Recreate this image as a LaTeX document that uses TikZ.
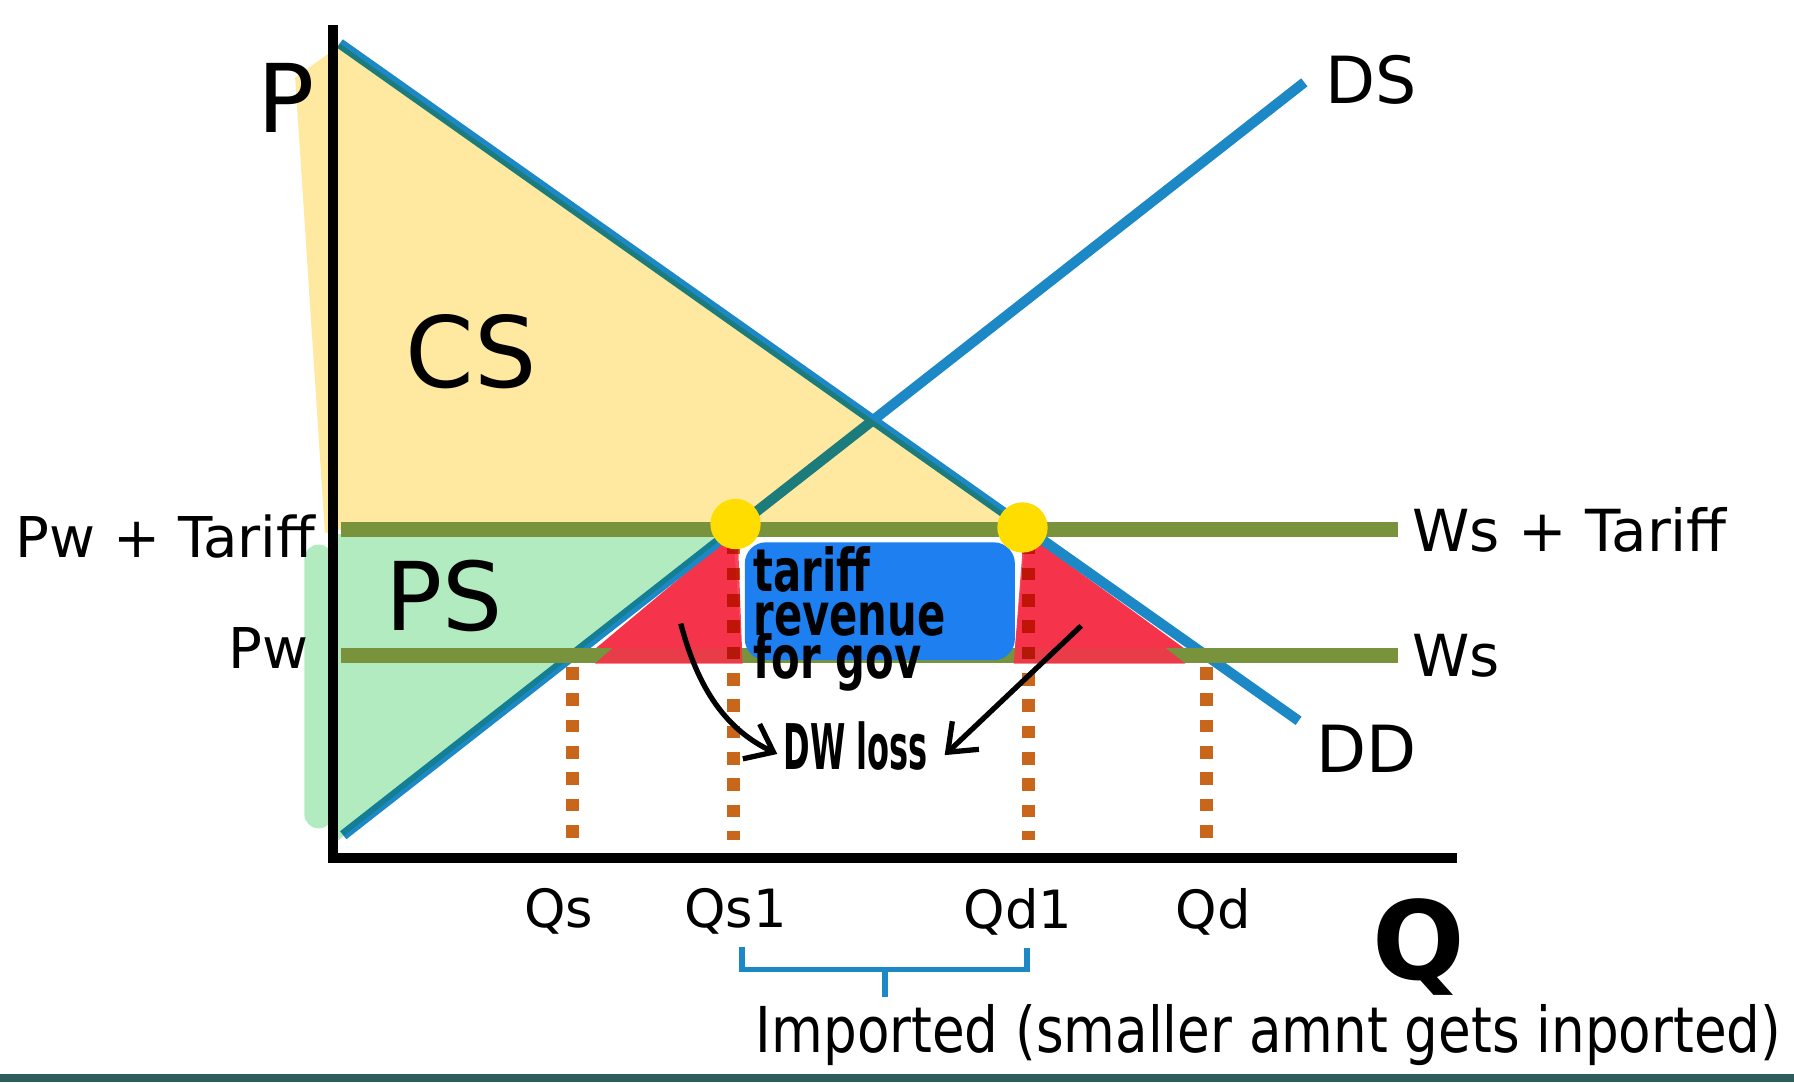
\documentclass[tikz,border=0pt]{standalone}
\usepackage{fontspec}
\setmainfont{DejaVu Sans}
\usepackage{graphicx}
\usetikzlibrary{arrows.meta,calc,intersections}

\definecolor{csyellow}{HTML}{FFE8A0}
\definecolor{psgreen}{HTML}{B2EBBF}
\definecolor{curveblue}{HTML}{1C89C6}
\definecolor{priceolive}{HTML}{79933D}
\definecolor{dwred}{HTML}{F5344B}
\definecolor{revblue}{HTML}{1D7FF0}
\definecolor{qorange}{HTML}{C8661C}
\definecolor{dotyellow}{HTML}{FFDD00}
\definecolor{barteal}{HTML}{2E5E5C}

\begin{document}
\begin{tikzpicture}[x=0.011441cm,y=-0.011441cm]
	\tikzstyle{econcurve}=[draw=curveblue,line width=2.9pt]
	\tikzstyle{priceline}=[draw=priceolive,line width=4.2pt]
	\tikzstyle{qline}=[draw=qorange,line width=3.6pt,dash pattern=on 3.6pt off 3.9pt,blend mode=multiply]
	\tikzstyle{sidelabel}=[font=\fontsize{16}{16}\selectfont,inner sep=0pt]
	\tikzstyle{qlabel}=[font=\fontsize{15}{15}\selectfont,inner sep=0pt]
	\tikzstyle{bracketline}=[draw=curveblue,line width=1.7pt]
	\tikzstyle{handarrow}=[draw=black,line width=1.5pt,-{Straight Barb[length=7pt,width=11pt,line width=1.5pt]}]

	\useasboundingbox (0,0) rectangle (1568,946);
	\fill[barteal] (0,939) rectangle (1568,946);

	% axes, curves and price lines
	\coordinate (O) at (291,750);
	\coordinate (ytop) at (291,22);
	\coordinate (xend) at (1273,750);
	\coordinate (dd0) at (297,38);
	\coordinate (dd1) at (1135,630);
	\coordinate (ds0) at (300,730);
	\coordinate (ds1) at (1140,72);
	\coordinate (pt0) at (298,463);
	\coordinate (pt1) at (1222,463);
	\coordinate (pw0) at (298,573);
	\coordinate (pw1) at (1222,573);

	\coordinate (qs) at (intersection of ds0--ds1 and pw0--pw1);
	\coordinate (qsone) at (intersection of ds0--ds1 and pt0--pt1);
	\coordinate (qdone) at (intersection of dd0--dd1 and pt0--pt1);
	\coordinate (qd) at (intersection of dd0--dd1 and pw0--pw1);

	% surplus areas
	\fill[dwred] (506,579) -- ($(qsone)+(0,3)$) -- (649,579) -- cycle;
	\fill[dwred] (886,579) -- ($(qdone)+(-2,3)$) -- (1052,579) -- cycle;

	\draw[econcurve] (dd0) -- (dd1);
	\draw[econcurve] (ds0) -- (ds1);

	\fill[csyellow,blend mode=multiply] (291,34) -- (qdone) -- (291,463) -- cycle;
	\fill[csyellow,blend mode=multiply] (258,68) -- (291,44) -- (291,466) -- (284,466) -- cycle;
	\fill[psgreen,blend mode=multiply] (291,467) -- (qsone) -- (291,738) -- cycle;
	\fill[psgreen,rounded corners=4pt] (266,476) rectangle (291,724);

	\draw[priceline] (pt0) -- (pt1);
	\draw[priceline] (pw0) -- (pw1);

	% deadweight loss and tariff revenue
	\fill[dwred,opacity=0.9] (520,580) -- ($(qsone)+(4,6)$) -- (649,580) -- cycle;
	\fill[dwred,opacity=0.9] (886,580) -- ($(qdone)+(-4,6)$) -- (1036,580) -- cycle;
	\fill[revblue,rounded corners=6pt] (651,474) rectangle (887,577);

	\foreach \q in {qs,qd}{
	\draw[qline] ($(\q |- pw0)+(0,10)$) -- ($(\q |- O)+(0,-12)$);}
	\foreach \q in {qsone,qdone}{
	\draw[qline] ($(\q |- pt0)+(0,10)$) -- ($(\q |- O)+(0,-16)$);}

	\draw[black,line width=2.9pt] (ytop) -- (O) -- (xend);

	\fill[dotyellow] ($(qsone)+(2,-5)$) circle[radius=22];
	\fill[dotyellow] ($(qdone)+(-5,-2)$) circle[radius=22];

	% labels
	\node[font=\fontsize{27}{27}\selectfont,inner sep=0pt] (plab) at (250,86) {P};
	\node[font=\bfseries\fontsize{31}{31}\selectfont,inner sep=0pt] (qlab) at (1240,828) {Q};
	\node[font=\fontsize{28}{28}\selectfont,inner sep=0pt] (cs) at (412,307) {CS};
	\node[font=\fontsize{27}{27}\selectfont,inner sep=0pt] (ps) at (388,521) {PS};

	\node[sidelabel,anchor=east] (pwt) at (276,469) {Pw + Tariff};
	\node[sidelabel,anchor=east] (pw) at (270,566) {Pw};
	\node[sidelabel,anchor=west,font=\fontsize{16.5}{16.5}\selectfont] (wst) at ($(pt1)+(12,0)$) {Ws + Tariff};
	\node[sidelabel,anchor=west,font=\fontsize{16.5}{16.5}\selectfont] (ws) at ($(pw1)+(12,0)$) {Ws};
	\node[font=\fontsize{18.5}{18.5}\selectfont,inner sep=0pt,anchor=west] (dslab) at ($(ds1)+(18,-2)$) {DS};
	\node[font=\fontsize{18.5}{18.5}\selectfont,inner sep=0pt,anchor=north west] (ddlab) at ($(dd1)+(15,3)$) {DD};

	\node[qlabel,anchor=north] (lqs) at ($(qs |- O)+(-12,26)$) {Qs};
	\node[qlabel,anchor=north] (lqsone) at ($(qsone |- O)+(2,26)$) {Qs1};
	\node[qlabel,anchor=north] (lqdone) at ($(qdone |- O)+(-9,26)$) {Qd1};
	\node[qlabel,anchor=north] (lqd) at ($(qd |- O)+(6,26)$) {Qd};

	\node[inner sep=0pt,anchor=north west] (rev) at (658,477)
		{\scalebox{0.72}[1.02]{\parbox{5cm}{\bfseries\fontsize{16.5}{12.2}\selectfont\lineskiplimit=-50pt tariff\\revenue\\for gov}}};
	\node[inner sep=0pt] (dwl) at (748,652)
		{\scalebox{0.57}[1.12]{\bfseries\fontsize{16}{16}\selectfont DW loss}};
	\coordinate (dwa) at (595,545);
	\coordinate (dwb) at (945,547);
	\draw[handarrow] (dwa) .. controls (612,610) and (640,640) .. ($(dwl.west)+(-5,7)$);
	\draw[handarrow] (dwb) -- ($(dwl.east)+(14,8)$);

	% imported bracket
	\coordinate (bl) at ($(lqsone.south)+(6,10)$);
	\coordinate (br) at ($(lqdone.south)+(8,10)$);
	\draw[bracketline] (bl) -- ++(0,20) -| (br);
	\draw[bracketline] ($(bl)!0.5!(br)+(0,20)$) -- ++(0,24);
	\node[inner sep=0pt,anchor=west] (imp) at (660,905)
		{\scalebox{0.84}[1]{\fontsize{18}{18}\selectfont Imported (smaller amnt gets inported)}};

\end{tikzpicture}
\end{document}
